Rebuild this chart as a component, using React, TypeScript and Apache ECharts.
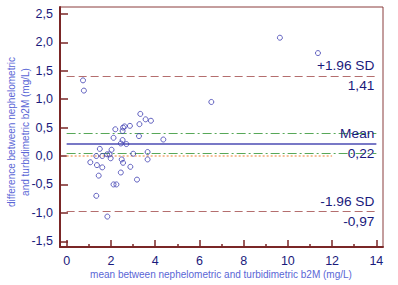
import React, { useEffect, useRef } from "react";
import * as echarts from "echarts";

// mean between nephelometric and turbidimetric b2M (mg/L)
const meanValues = [
  9.64, 11.36, 6.54, 0.74, 0.78,
  3.33, 3.57, 3.81, 3.29, 2.86,
  2.62, 2.55, 2.2, 2.53, 3.27,
  2.12, 2.53, 2.45, 2.7, 4.37,
  1.5, 2.03, 1.34, 1.61, 1.83,
  1.94, 1.99, 1.07, 1.37, 1.61,
  1.45, 1.34, 2.12, 2.25, 1.84,
  2.49, 2.55, 2.45, 2.88, 3.18,
  3.01, 3.66, 3.66,
];
// difference between nephelometric and turbidimetric b2M (mg/L)
const diffValues = [
  2.08, 1.81, 0.95, 1.33, 1.15,
  0.74, 0.645, 0.62, 0.56, 0.53,
  0.52, 0.5, 0.47, 0.44, 0.35,
  0.32, 0.28, 0.22, 0.21, 0.29,
  0.125, 0.11, 0.0, 0.0, 0.03,
  0.03, -0.04, -0.11, -0.16, -0.2,
  -0.345, -0.7, -0.5, -0.5, -1.065,
  -0.06, -0.12, -0.29, -0.19, -0.415,
  0.04, 0.07, -0.06,
];

const xTickValues = [0, 2, 4, 6, 8, 10, 12, 14];
const xMinorTickValues = [1, 3, 5, 7, 9, 11, 13];
const yTickValues = [-1.5, -1.0, -0.5, 0.0, 0.5, 1.0, 1.5, 2.0, 2.5];

const meanDiff = 0.22;
const upperLimit = 1.41;
const lowerLimit = -0.97;
const meanCiUpper = 0.4;
const meanCiLower = 0.04;
const lineStart = 0;
const lineEnd = 14;
const equalityEnd = 12;

const xTitle = "mean between nephelometric and turbidimetric b2M (mg/L)";
const yTitle = "difference between nephelometric\nand turbidimetric b2M (mg/L)";

const fmt = (v: number, d: number) => v.toFixed(d).replace(".", ",");

export default function App() {
  const ref = useRef<HTMLDivElement>(null);
  useEffect(() => {
    if (!ref.current) return;
    const chart = echarts.init(ref.current, undefined, { renderer: "svg" });
    const font = "'Liberation Sans', Arial, sans-serif";
    const axisColor = "#7a2626";
    const labelColor = "#1a1a7c";
    const titleColor = "#5a66d6";
    const sdLine = { color: "#b46e6e", type: [8, 4] as any, width: 1 };
    const ciLine = { color: "#58a858", type: [9, 3, 2, 3] as any, width: 1 };
    const meanLine = { color: "#7878c6", type: "solid" as any, width: 2 };
    const hidden = { color: "rgba(0,0,0,0)", type: "solid" as any, width: 1 };
    const txt = (formatter: string, position: string) => ({
      show: true,
      position,
      formatter,
      color: labelColor,
      fontSize: 13.7,
      fontFamily: font,
      distance: [2, 3],
    });
    const seg = (v: number, lineStyle: any, label: any, x1 = lineStart, x2 = lineEnd) => [
      { coord: [x1, v], lineStyle, label },
      { coord: [x2, v] },
    ];
    const points = meanValues.map((m, i) => [m, diffValues[i]]);

    chart.setOption({
      animation: false,
      backgroundColor: "#ffffff",
      grid: {
        left: 60,
        right: 15,
        top: 7,
        bottom: 38,
        show: true,
        borderColor: "#8a3c3c",
        borderWidth: 1,
        backgroundColor: "transparent",
      },
      xAxis: [
        {
          type: "value",
          min: -0.3,
          max: 14.3,
          position: "bottom",
          axisLine: { show: true, onZero: false, lineStyle: { color: axisColor, width: 2 } },
          axisTick: {
            show: true,
            inside: true,
            length: 7,
            customValues: xTickValues,
            lineStyle: { color: axisColor, width: 1.5 },
          },
          axisLabel: {
            customValues: xTickValues,
            color: labelColor,
            fontSize: 12.5,
            fontFamily: font,
            margin: 7,
          },
          splitLine: { show: false },
        },
        {
          type: "value",
          min: -0.3,
          max: 14.3,
          position: "bottom",
          axisLine: { show: false, onZero: false },
          axisTick: {
            show: true,
            inside: true,
            length: 3,
            customValues: xMinorTickValues,
            lineStyle: { color: axisColor, width: 1.5 },
          },
          axisLabel: { show: false },
          splitLine: { show: false },
        },
      ],
      yAxis: {
        type: "value",
        min: -1.6,
        max: 2.62,
        axisLine: { show: true, onZero: false, lineStyle: { color: axisColor, width: 2 } },
        axisTick: {
          show: true,
          inside: true,
          length: 8,
          customValues: yTickValues,
          lineStyle: { color: axisColor, width: 1.5 },
        },
        axisLabel: {
          customValues: yTickValues,
          formatter: (v: number) => fmt(v, 1),
          color: labelColor,
          fontSize: 12.5,
          fontFamily: font,
          margin: 7,
        },
        splitLine: { show: false },
      },
      graphic: [
        {
          type: "text",
          x: 221,
          y: 274,
          style: {
            text: xTitle,
            fill: titleColor,
            font: `10px ${font}`,
            textAlign: "center",
            textVerticalAlign: "middle",
          },
        },
        {
          type: "text",
          x: 18.5,
          y: 132,
          rotation: Math.PI / 2,
          style: {
            text: yTitle,
            fill: titleColor,
            font: `10px ${font}`,
            lineHeight: 13.5,
            textAlign: "center",
            textVerticalAlign: "middle",
          },
        },
      ],
      series: [
        {
          type: "scatter",
          xAxisIndex: 0,
          yAxisIndex: 0,
          data: points,
          symbol: "circle",
          symbolSize: 5,
          itemStyle: { color: "rgba(0,0,0,0)", borderColor: "#3c3cb0", borderWidth: 1 },
          z: 5,
          markLine: {
            silent: true,
            symbol: ["none", "none"],
            z: 3,
            data: [
              seg(0, { color: "#f6bf98", type: "dotted", width: 2 }, { show: false }, lineStart, equalityEnd),
              seg(meanCiUpper, ciLine, { show: false }),
              seg(meanCiLower, ciLine, { show: false }),
              seg(upperLimit, sdLine, txt("+1.96 SD", "insideEndTop")),
              seg(upperLimit, hidden, txt(fmt(upperLimit, 2), "insideEndBottom")),
              seg(meanDiff, meanLine, txt("Mean", "insideEndTop")),
              seg(meanDiff, hidden, txt(fmt(meanDiff, 2), "insideEndBottom")),
              seg(lowerLimit, sdLine, txt("-1.96 SD", "insideEndTop")),
              seg(lowerLimit, hidden, txt(fmt(lowerLimit, 2), "insideEndBottom")),
            ],
          },
        },
      ],
    });
    return () => chart.dispose();
  }, []);
  return (
    <div
      ref={ref}
      style={{ position: "absolute", left: 0, top: 0, width: 398, height: 285 }}
    />
  );
}
